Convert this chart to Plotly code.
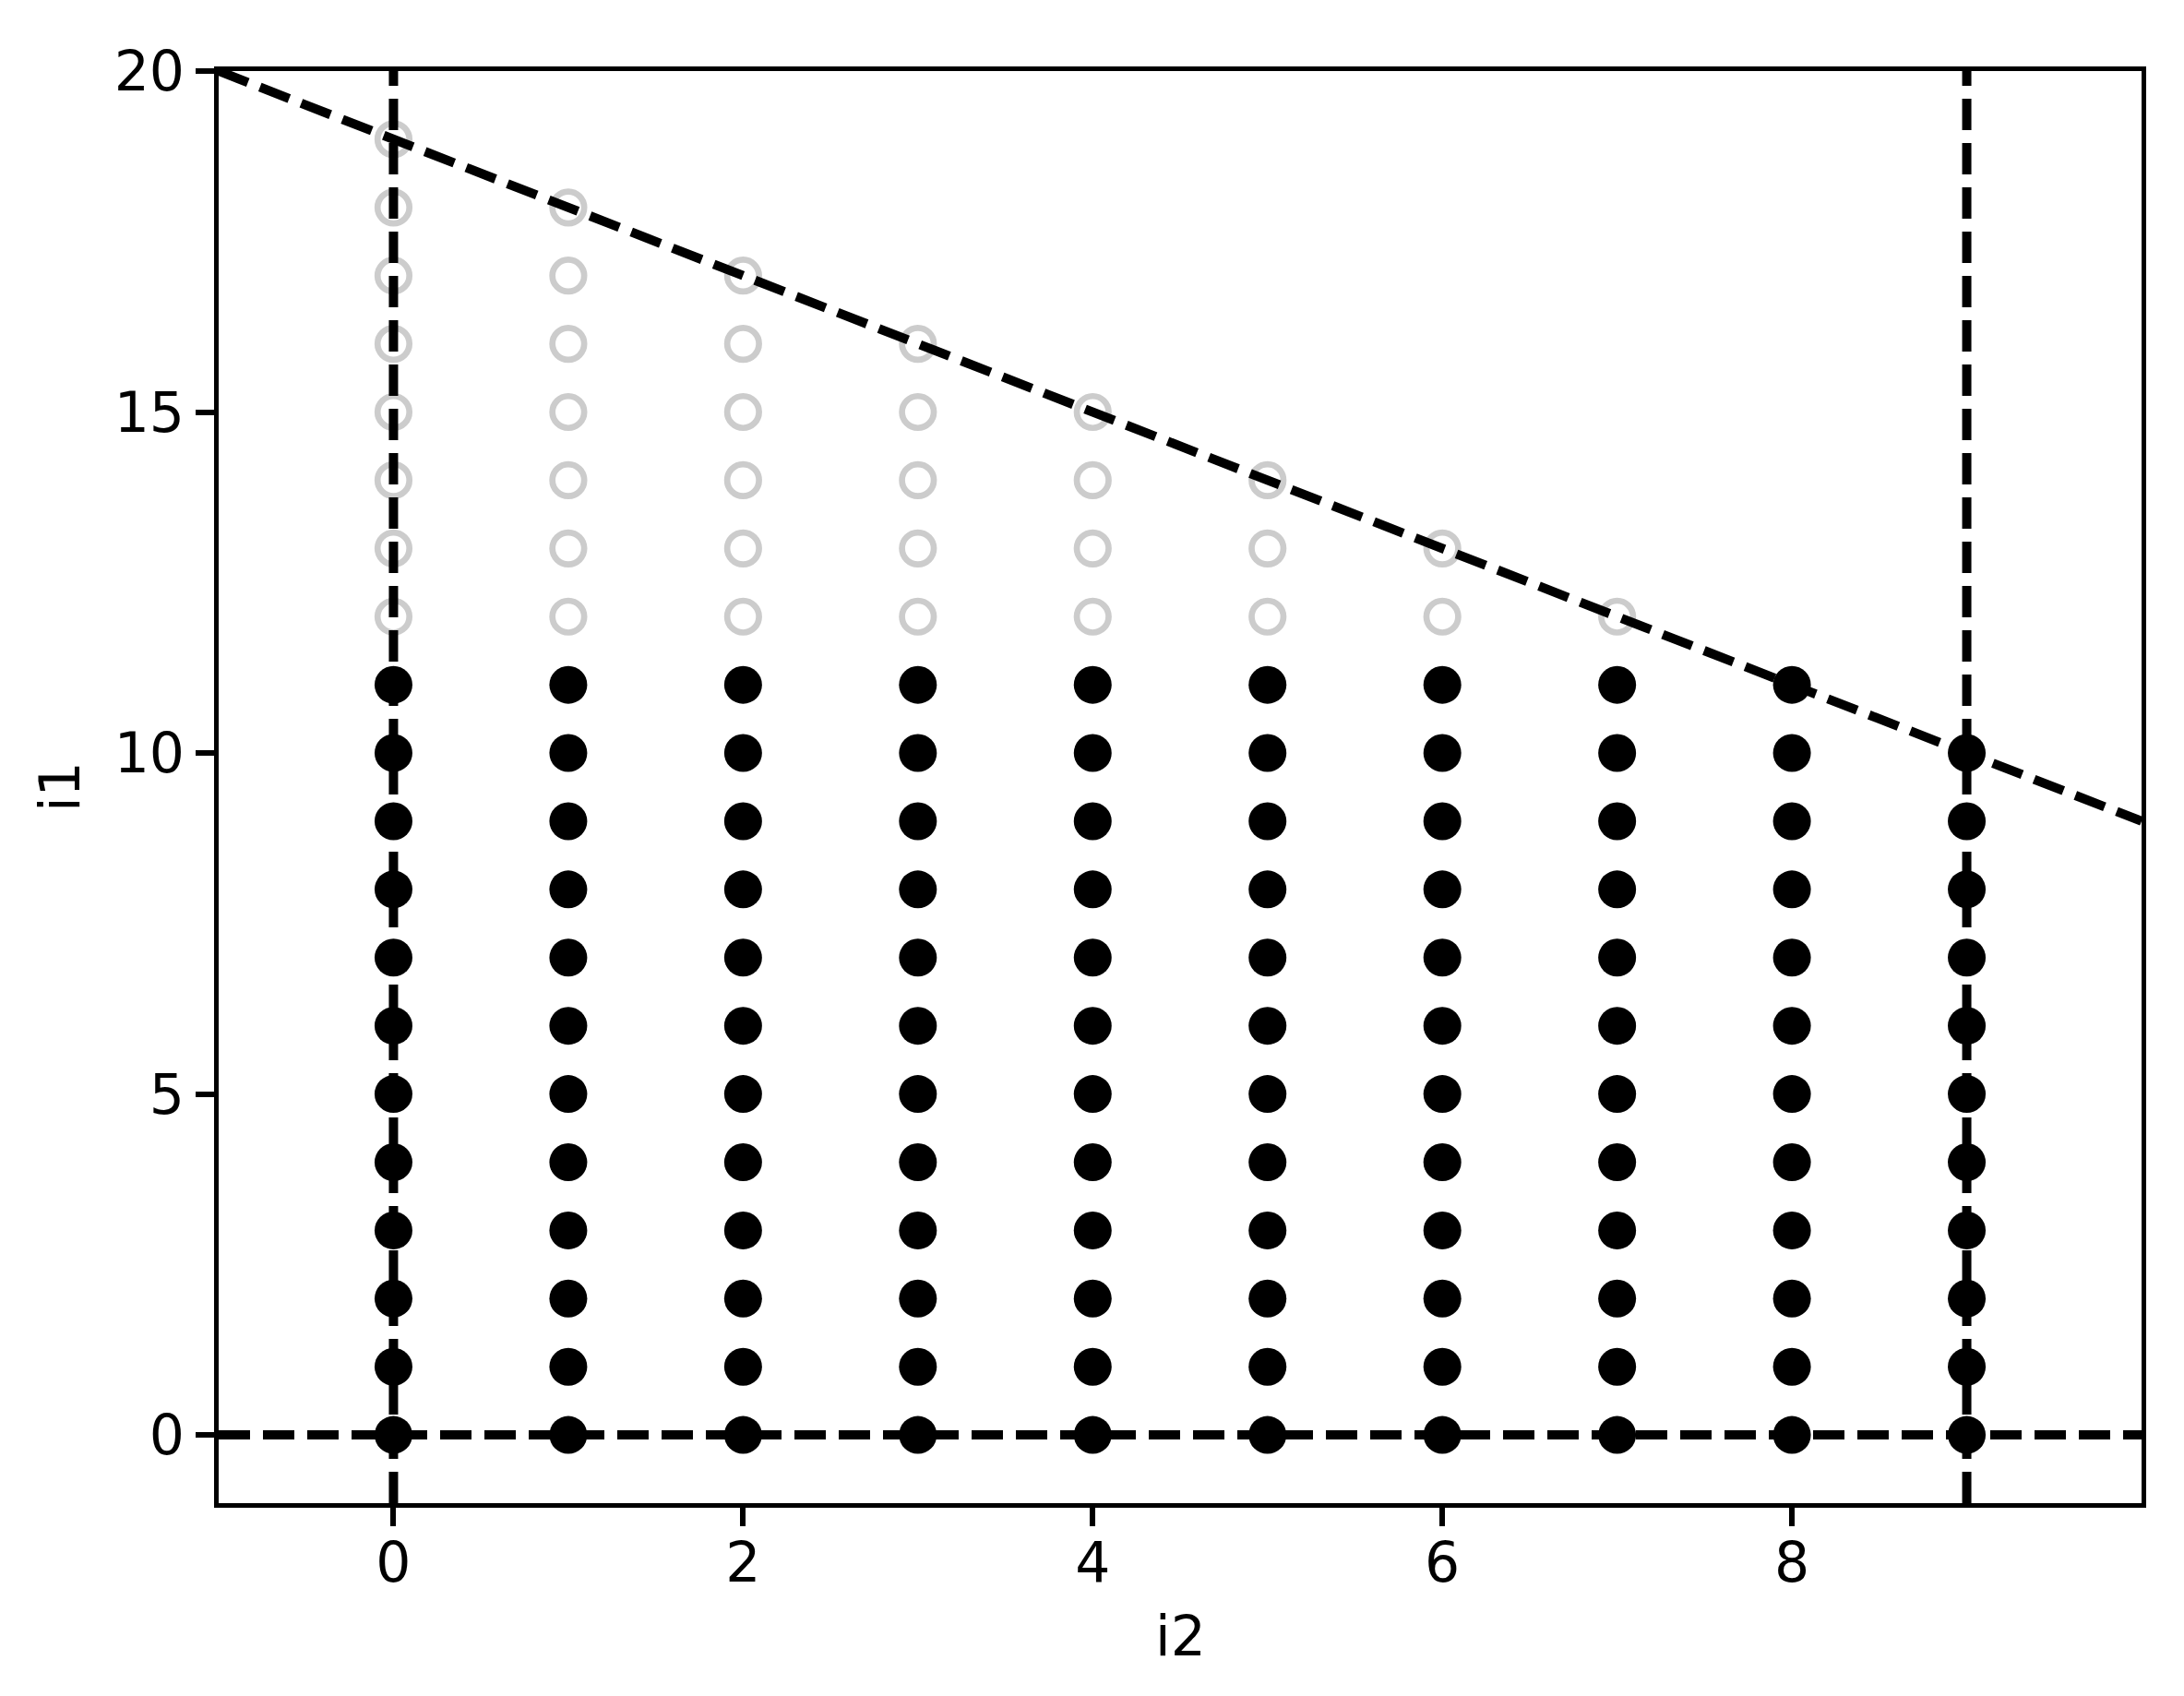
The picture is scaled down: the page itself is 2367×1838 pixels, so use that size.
import plotly.graph_objects as go

# ---- data ----
columns_i2 = [0, 1, 2, 3, 4, 5, 6, 7, 8, 9]
# filled (black) points: i1 from 0 up to this value in each column
filled_top_i1 = [11, 11, 11, 11, 11, 11, 11, 11, 11, 10]
# open (grey) points: i1 from 12 up to this value in each column (None = no open points)
open_bottom_i1 = 12
open_top_i1 = [19, 18, 17, 16, 15, 14, 13, 12, None, None]

# reference dashed lines
vertical_lines_i2 = [0, 9]
horizontal_lines_i1 = [0]
diag_intercept = 19   # i1 = 19 - i2
diag_slope = -1

x_range = [-1, 10]
y_range = [-1, 20]
x_ticks = [0, 2, 4, 6, 8]
y_ticks = [0, 5, 10, 15, 20]

# ---- expand columns into points ----
fx, fy, ox, oy = [], [], [], []
for c, ft, ot in zip(columns_i2, filled_top_i1, open_top_i1):
    for v in range(0, ft + 1):
        fx.append(c); fy.append(v)
    if ot is not None:
        for v in range(open_bottom_i1, ot + 1):
            ox.append(c); oy.append(v)

fig = go.Figure()

fig.add_trace(go.Scatter(
    x=ox, y=oy, mode="markers",
    marker=dict(symbol="circle-open", size=34.5, color="#cccccc",
                line=dict(width=6.7, color="#cccccc")),
    showlegend=False, hoverinfo="skip"))

fig.add_trace(go.Scatter(
    x=fx, y=fy, mode="markers",
    marker=dict(symbol="circle", size=41, color="black", line=dict(width=0)),
    showlegend=False, hoverinfo="skip"))

dash = "34px,14px"
lw = 10
for xv in vertical_lines_i2:
    fig.add_trace(go.Scatter(x=[xv, xv], y=[y_range[0], y_range[1]], mode="lines",
                             line=dict(color="black", width=lw, dash=dash),
                             showlegend=False, hoverinfo="skip"))
for yv in horizontal_lines_i1:
    fig.add_trace(go.Scatter(x=[x_range[0], x_range[1]], y=[yv, yv], mode="lines",
                             line=dict(color="black", width=lw, dash=dash),
                             showlegend=False, hoverinfo="skip"))
fig.add_trace(go.Scatter(
    x=[x_range[0], x_range[1]],
    y=[diag_intercept + diag_slope * x_range[0], diag_intercept + diag_slope * x_range[1]],
    mode="lines", line=dict(color="black", width=lw, dash=dash),
    showlegend=False, hoverinfo="skip"))

axis_common = dict(showline=True, mirror=True, linewidth=5, linecolor="black",
                   ticks="outside", ticklen=20, tickwidth=5.5, tickcolor="black",
                   showgrid=False, zeroline=False,
                   tickfont=dict(family="DejaVu Sans", size=60, color="black"))

fig.update_xaxes(range=x_range, tickvals=x_ticks, ticktext=[str(t) for t in x_ticks],
                 ticklabelstandoff=-12, **axis_common)
fig.update_yaxes(range=y_range, tickvals=y_ticks, ticktext=[str(t) for t in y_ticks],
                 **axis_common)

# page body has an 8px default margin; compensate so the plot area lands in place
fig.update_layout(
    width=2351, height=1822, autosize=False,
    margin=dict(l=229, r=38, t=69, b=201),
    paper_bgcolor="white", plot_bgcolor="white",
    font=dict(family="DejaVu Sans", size=60, color="black"),
    annotations=[
        dict(text="i2", xref="paper", yref="paper", x=0.5, y=-0.0928,
             xanchor="center", yanchor="middle", showarrow=False,
             font=dict(family="DejaVu Sans", size=60, color="black")),
        dict(text="i1", xref="paper", yref="paper", x=-0.0825, y=0.5,
             xanchor="center", yanchor="middle", showarrow=False, textangle=-90,
             font=dict(family="DejaVu Sans", size=60, color="black")),
    ],
)

fig.write_html("out.html")
